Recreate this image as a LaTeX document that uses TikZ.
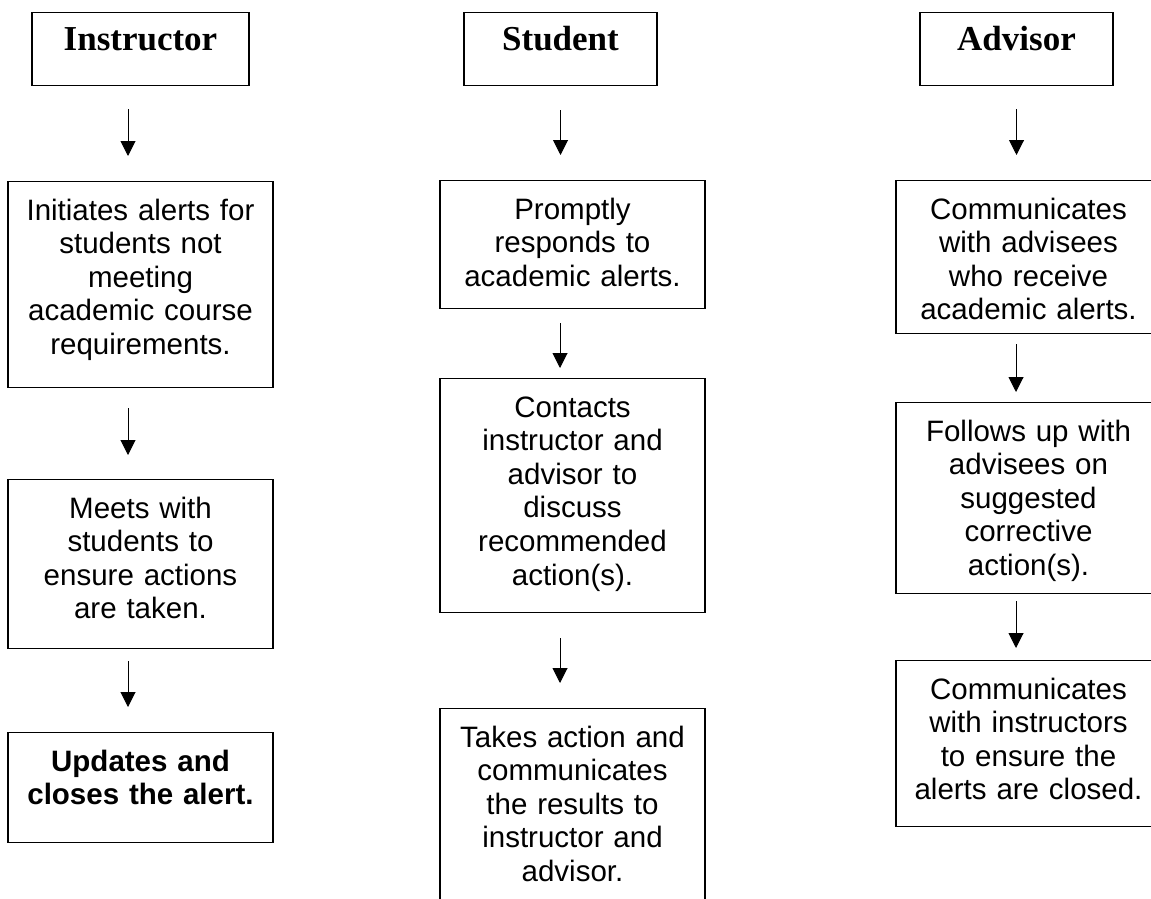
\documentclass[tikz,border=0pt]{standalone}
\usepackage{fontspec}
\usetikzlibrary{arrows.meta}
\newfontfamily\bodyfont{Liberation Sans}
\newfontfamily\headfont{Liberation Serif}
\setlength{\lineskiplimit}{-10pt}

\begin{document}
\begin{tikzpicture}[x=1pt,y=-1pt,line width=1.2pt,
    role/.style={draw,anchor=north,inner sep=0pt,text height=38pt,text depth=35pt,
      font=\headfont\bfseries\fontsize{35}{38}\selectfont},
    task/.style={draw,anchor=north,inner xsep=4pt,inner ysep=0pt,text width=257pt,
      align=center,text height=38.5pt,font=\bodyfont\fontsize{29.5}{33.6}\selectfont},
    flow/.style={line width=1pt,-{Triangle[width=15pt,length=15pt]}}]
  \useasboundingbox (0,0) rectangle (1151,899);
  \clip (0,0) rectangle (1151,899);

    % Instructor
    \node[role,minimum width=217pt] (hI) at (140.5,12) {Instructor};
    \node[task,text depth=167.5pt] (i1) at (140.5,181)
      {Initiates alerts for\\ students not\\ meeting\\ academic course\\ requirements.};
    \node[task,text depth=130.5pt] (i2) at (140.5,479)
      {Meets with\\ students to\\ ensure actions\\ are taken.};
    \node[task,text depth=71.5pt] (i3) at (140.5,732)
      {\bfseries Updates and\\ closes the alert.};

    % Student
    \node[role,minimum width=193pt] (hS) at (560.5,12) {Student};
    \node[task,text depth=89.5pt] (s1) at (572.5,180)
      {Promptly\\ responds to\\ academic alerts.};
    \node[task,text depth=195.5pt] (s2) at (572.5,378)
      {Contacts\\ instructor and\\ advisor to\\ discuss\\ recommended\\ action(s).};
    \node[task,text depth=195.5pt] (s3) at (572.5,708)
      {Takes action and\\ communicates\\ the results to\\ instructor and\\ advisor.};

    % Advisor
    \node[role,minimum width=193pt] (hA) at (1016.5,12) {Advisor};
    \node[task,text depth=114.5pt] (a1) at (1028.5,180)
      {Communicates\\ with advisees\\ who receive\\ academic alerts.};
    \node[task,text depth=152.5pt] (a2) at (1028.5,402)
      {Follows up with\\ advisees on\\ suggested\\ corrective\\ action(s).};
    \node[task,text depth=127.5pt] (a3) at (1028.5,660)
      {Communicates\\ with instructors\\ to ensure the\\ alerts are closed.};

    \draw[flow,shorten <=23pt,shorten >=25pt] ([xshift=-12.5pt]hI.south) -- ([xshift=-12.5pt]i1.north);
    \draw[flow,shorten <=20pt,shorten >=24pt] ([xshift=-12.5pt]i1.south) -- ([xshift=-12.5pt]i2.north);
    \draw[flow,shorten <=12pt,shorten >=25pt] ([xshift=-12.5pt]i2.south) -- ([xshift=-12.5pt]i3.north);

    \draw[flow,shorten <=24pt,shorten >=25pt] (hS.south) -- (hS.south |- s1.north);
    \draw[flow,shorten <=14pt,shorten >=10pt] ([xshift=-12.5pt]s1.south) -- ([xshift=-12.5pt]s2.north);
    \draw[flow,shorten <=25pt,shorten >=25pt] ([xshift=-12.5pt]s2.south) -- ([xshift=-12.5pt]s3.north);

    \draw[flow,shorten <=23pt,shorten >=25pt] (hA.south) -- (hA.south |- a1.north);
    \draw[flow,shorten <=10pt,shorten >=10pt] ([xshift=-12.5pt]a1.south) -- ([xshift=-12.5pt]a2.north);
    \draw[flow,shorten <=7pt,shorten >=12pt] ([xshift=-12.5pt]a2.south) -- ([xshift=-12.5pt]a3.north);
  \end{tikzpicture}
\end{document}
